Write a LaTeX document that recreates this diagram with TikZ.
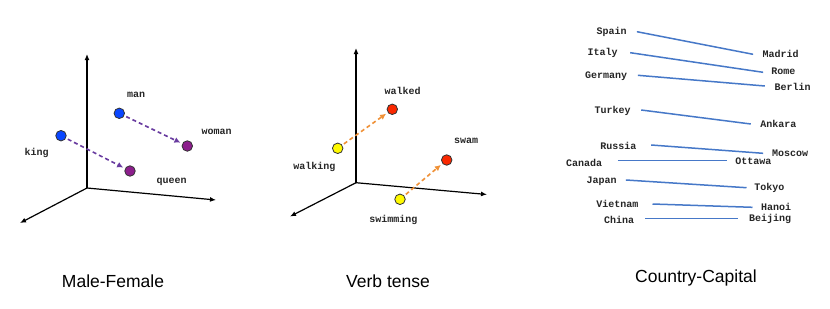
\documentclass[tikz,border=0pt]{standalone}
\usepackage{fontspec}
\setmainfont{Liberation Sans}
\newfontfamily\monof{Liberation Mono}
\usetikzlibrary{arrows.meta}
\definecolor{dotblue}{RGB}{10,70,255}
\definecolor{dotpurple}{RGB}{140,30,140}
\definecolor{dotyellow}{RGB}{255,250,0}
\definecolor{dotred}{RGB}{250,40,0}
\definecolor{arrpurple}{RGB}{105,60,160}
\definecolor{arrorange}{RGB}{240,145,55}
\definecolor{linkblue}{RGB}{70,120,200}
\tikzset{
  axis/.style={line width=1.2pt,-{Latex[length=6pt,width=5pt]}},
  dot/.style={circle,draw=black!80,line width=0.8pt,minimum size=10.5pt,inner sep=0pt},
  word/.style={font=\monof\bfseries\fontsize{10}{12}\selectfont,text=black!85,inner sep=0pt},
  title/.style={font=\fontsize{17.5}{20}\selectfont,inner sep=0pt},
  vec/.style={line width=1.6pt,dash pattern=on 4pt off 3pt,-{Latex[length=6pt,width=6pt]},shorten >=2pt,shorten <=2pt},
  link/.style={linkblue,line width=1.5pt}
}
\begin{document}
\begin{tikzpicture}[x=1pt,y=-1pt]
\useasboundingbox[fill=white] (0,0) rectangle (830,308);
% ---- Panel 1
\coordinate (o1) at (87,188);
\coordinate (u1) at (87,54);
\coordinate (r1) at (216,200);
\coordinate (l1) at (20,223);
\draw[axis] (o1) -- (u1);
\draw[axis] (o1) -- (r1);
\draw[axis] (o1) -- (l1);
\node[dot,fill=dotblue] (king) at (61,135.7) {};
\node[dot,fill=dotblue] (man) at (119.3,113.3) {};
\node[dot,fill=dotpurple] (woman) at (187.3,146) {};
\node[dot,fill=dotpurple] (queen) at (130,171) {};
\node[word] (lman) at (136,95) {man};
\node[word] (lwoman) at (216.7,131.7) {woman};
\node[word] (lking) at (36.7,153.3) {king};
\node[word] (lqueen) at (171.7,181.7) {queen};
\draw[vec,arrpurple] (king) -- (queen);
\draw[vec,arrpurple] (man) -- (woman);
% ---- Panel 2
\coordinate (o2) at (356,182.7);
\coordinate (u2) at (356,48);
\coordinate (r2) at (487,194.5);
\coordinate (l2) at (290,216.5);
\draw[axis] (o2) -- (u2);
\draw[axis] (o2) -- (r2);
\draw[axis] (o2) -- (l2);
\node[dot,fill=dotred] (walked) at (392.3,109.3) {};
\node[dot,fill=dotyellow] (walking) at (337.7,148.3) {};
\node[dot,fill=dotred] (swam) at (446.7,160) {};
\node[dot,fill=dotyellow] (swimming) at (400,199.3) {};
\node[word] (lwalked) at (402.7,91) {walked};
\node[word] (lswam) at (466,141) {swam};
\node[word] (lwalking) at (314.3,166.7) {walking};
\node[word] (lswimming) at (393.3,220) {swimming};
\draw[vec,arrorange] (walking) -- (walked);
\draw[vec,arrorange] (swimming) -- (swam);
% ---- Panel 3
\node[word] (spain) at (611.7,31.7) {Spain};
\node[word] (madrid) at (780.7,54.3) {Madrid};
\node[word] (italy) at (602.7,53.3) {Italy};
\node[word] (rome) at (783.3,71.7) {Rome};
\node[word] (germany) at (606,76) {Germany};
\node[word] (berlin) at (792.7,86.7) {Berlin};
\node[word] (turkey) at (612.7,110.7) {Turkey};
\node[word] (ankara) at (778.3,124) {Ankara};
\node[word] (russia) at (618.3,146) {Russia};
\node[word] (moscow) at (790,153.3) {Moscow};
\node[word] (canada) at (584,162.7) {Canada};
\node[word] (ottawa) at (753.3,161) {Ottawa};
\node[word] (japan) at (601.7,181) {Japan};
\node[word] (tokyo) at (769.3,187.7) {Tokyo};
\node[word] (vietnam) at (617.3,204.3) {Vietnam};
\node[word] (hanoi) at (776,206.7) {Hanoi};
\node[word] (china) at (619,220) {China};
\node[word] (beijing) at (770,219.3) {Beijing};
\draw[link] ([xshift=10pt]spain.east) -- ([xshift=-9.4pt]madrid.west);
\draw[link] ([xshift=12.3pt,yshift=0.6pt]italy.east) -- ([xshift=-8pt,yshift=-0.6pt]rome.west);
\draw[link] ([xshift=10.7pt,yshift=0.7pt]germany.east) -- ([xshift=-9.7pt,yshift=0.7pt]berlin.west);
\draw[link] ([xshift=10.3pt,yshift=0.7pt]turkey.east) -- ([xshift=-9.3pt]ankara.west);
\draw[link] ([xshift=14.7pt,yshift=1pt]russia.east) -- ([xshift=-8.7pt]moscow.west);
\draw[link] ([xshift=15.7pt,yshift=2pt]canada.east) -- ([xshift=-8.6pt,yshift=0.3pt]ottawa.west);
\draw[link] ([xshift=9pt,yshift=1pt]japan.east) -- ([xshift=-7.6pt]tokyo.west);
\draw[link] ([xshift=14pt,yshift=0.3pt]vietnam.east) -- ([xshift=-8.3pt,yshift=-0.6pt]hanoi.west);
\draw[link] ([xshift=11pt,yshift=1.7pt]china.east) -- ([xshift=-10.7pt,yshift=1pt]beijing.west);
% ---- Titles
\node[title] (t1) at (113,281.7) {Male-Female};
\node[title] (t2) at (388,281.7) {Verb tense};
\node[title] (t3) at (696,278.3) {Country-Capital};
\end{tikzpicture}
\end{document}
